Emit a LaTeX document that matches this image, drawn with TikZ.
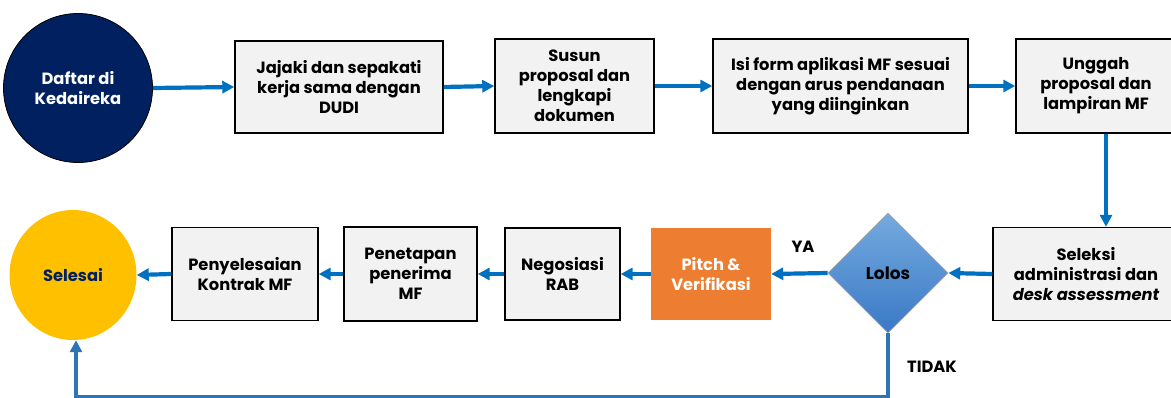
\documentclass[tikz,border=0pt]{standalone}
\usepackage{fontspec}
\setmainfont{Poppins}
\usetikzlibrary{shapes.geometric,arrows.meta}
\definecolor{navy}{HTML}{002060}
\definecolor{arrblue}{HTML}{0070C0}
\definecolor{loopblue}{HTML}{2E75B6}
\definecolor{boxgray}{HTML}{F2F2F2}
\definecolor{orng}{HTML}{ED7D31}
\definecolor{gold}{HTML}{FFC000}
\definecolor{diatop}{HTML}{74AADD}
\definecolor{diabot}{HTML}{3A79C6}
\tikzset{
  txt/.style={font=\fontsize{16.3}{20}\selectfont\bfseries, align=center, inner sep=0pt},
  stepbox/.style={txt, draw=black, line width=1.4pt, fill=boxgray, rectangle},
  arr/.style={draw=arrblue, line width=4.2pt, -{Triangle[length=12pt,width=12pt]}},
}
\begin{document}
\begin{tikzpicture}[x=1pt,y=-1pt]
\useasboundingbox (0,0) rectangle (1171,398);
% top row
\node[txt, circle, draw=black, line width=0.8pt, fill=navy, text=white, minimum size=149] (daftar) at (78,88) {Daftar di\\Kedaireka};
\node[stepbox, minimum width=208, minimum height=92] (b1) at (339,87) {Jajaki dan sepakati\\kerja sama dengan\\DUDI};
\node[stepbox, minimum width=159, minimum height=94] (b2) at (574.5,86) {Susun\\proposal dan\\lengkapi\\dokumen};
\node[stepbox, minimum width=255, minimum height=94] (b3) at (840.5,86) {Isi form aplikasi MF sesuai\\dengan arus pendanaan\\yang diinginkan};
\node[stepbox, minimum width=160, minimum height=94] (b4) at (1096,86) {Unggah\\proposal dan\\lampiran MF};
% bottom row
\node[stepbox, minimum width=186, minimum height=93] (sel) at (1086,274) {Seleksi\\administrasi dan\\{\itshape desk assessment}};
\node[txt, font=\fontsize{17}{20}\selectfont\bfseries, diamond, draw=gray!70, line width=0.6pt, top color=diatop, bottom color=diabot, minimum width=120, minimum height=120, inner sep=0pt] (dia) at (888,273) {Lolos};
\node[txt, rectangle, fill=orng, text=white, minimum width=120, minimum height=92] (pitch) at (711,274) {Pitch \&\\Verifikasi};
\node[stepbox, minimum width=115, minimum height=92] (nego) at (562.5,274) {Negosiasi\\RAB};
\node[stepbox, minimum width=133, minimum height=94] (pen) at (410.5,274) {Penetapan\\penerima\\MF};
\node[stepbox, minimum width=146, minimum height=93] (kon) at (245,274) {Penyelesaian\\Kontrak MF};
\node[txt, ellipse, fill=gold, text=navy, minimum width=127, minimum height=130] (end) at (73,275) {Selesai};
% labels
\node[txt] (ya) at (803,247) {YA};
\node[txt] (tidak) at (932,367) {TIDAK};
% connectors
\draw[arr] (daftar.east) -- (b1.west);
\draw[arr] (b1.east) -- (b2.west);
\draw[arr] (b2.east) -- (b3.west);
\draw[arr] (b3.east) -- (b4.west);
\draw[arr] ([xshift=10pt]b4.south) -- ([xshift=20pt]sel.north);
\draw[arr] (sel.west) -- (dia.east);
\draw[arr] (dia.west) -- (pitch.east);
\draw[arr] (pitch.west) -- (nego.east);
\draw[arr] (nego.west) -- (pen.east);
\draw[arr] (pen.west) -- (kon.east);
\draw[arr] (kon.west) -- (end.east);
\draw[arr, draw=loopblue, line width=3.4pt] (dia.south) -- ++(0,63) -| ([xshift=3pt]end.south);
\end{tikzpicture}
\end{document}
